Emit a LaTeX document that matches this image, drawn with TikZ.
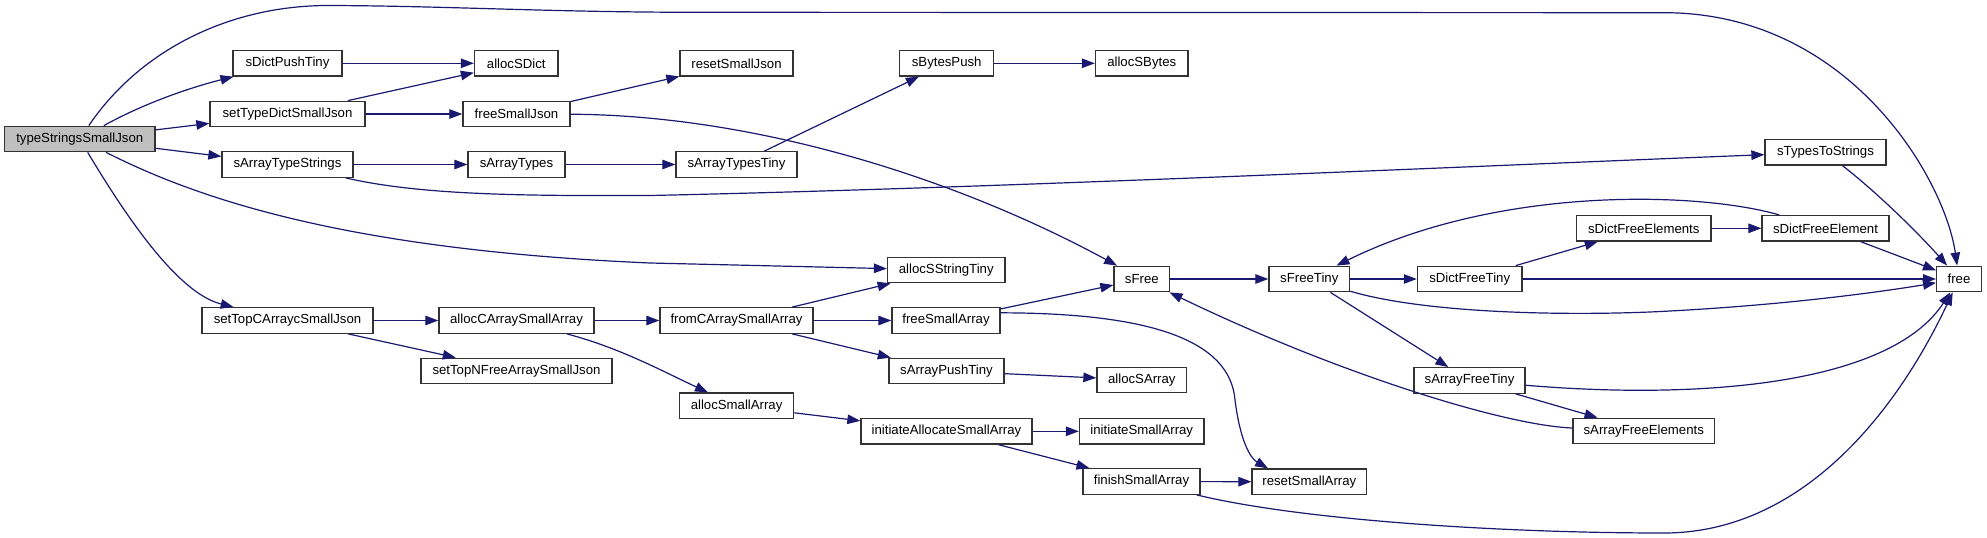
\documentclass[tikz,border=0pt]{standalone}
\usepackage{fontspec}
\setmainfont{Liberation Sans}
\usetikzlibrary{arrows.meta}
\definecolor{edgec}{HTML}{191970}
\begin{document}
\begin{tikzpicture}[x=1pt,y=-1pt,
  fn/.style={draw=black!80, line width=1.3pt, fill=white, minimum height=25.5pt, inner sep=0pt, font=\fontsize{13.2}{15}\selectfont},
  call/.style={draw=edgec, line width=1.2pt, -{Triangle[length=13pt,width=9.5pt]}},
]
\useasboundingbox (0,0) rectangle (1987,538);
\fill[white] (0,0) rectangle (1987,538);

\node[fn,minimum width=150.5pt,fill=black!25] (tssj) at (79.75,139) {typeStringsSmallJson};
\node[fn,minimum width=109pt] (sdpt) at (287.5,63.3) {sDictPushTiny};
\node[fn,minimum width=83.5pt] (asd) at (516.25,63.3) {allocSDict};
\node[fn,minimum width=155pt] (stdsj) at (287.5,114) {setTypeDictSmallJson};
\node[fn,minimum width=107pt] (fsj) at (516.5,114) {freeSmallJson};
\node[fn,minimum width=131pt] (satst) at (287.5,164.5) {sArrayTypeStrings};
\node[fn,minimum width=97pt] (sat) at (516.5,164.5) {sArrayTypes};
\node[fn,minimum width=113pt] (rsj) at (736.5,63.3) {resetSmallJson};
\node[fn,minimum width=94pt] (sbp) at (946.7,63.3) {sBytesPush};
\node[fn,minimum width=92.5pt] (asb) at (1141.75,63.3) {allocSBytes};
\node[fn,minimum width=121pt] (satt) at (736.5,164.5) {sArrayTypesTiny};
\node[fn,minimum width=117.5pt] (asst) at (946.25,270) {allocSStringTiny};
\node[fn,minimum width=121pt] (sttst) at (1825.5,152.3) {sTypesToStrings};
\node[fn,minimum width=134.5pt] (sdfes) at (1643.75,228.3) {sDictFreeElements};
\node[fn,minimum width=127pt] (sdfe) at (1825.5,228.3) {sDictFreeElement};
\node[fn,minimum width=44.7pt] (free) at (1959,279) {free};
\node[fn,minimum width=104.6pt] (sdft) at (1469.7,279) {sDictFreeTiny};
\node[fn,minimum width=80.6pt] (sft) at (1309.3,279) {sFreeTiny};
\node[fn,minimum width=55.6pt] (sfree) at (1141.8,279) {sFree};
\node[fn,minimum width=111pt] (saft) at (1469.5,380.5) {sArrayFreeTiny};
\node[fn,minimum width=141.5pt] (safe) at (1643.75,431) {sArrayFreeElements};
\node[fn,minimum width=114.6pt] (rsa) at (1309.3,481.8) {resetSmallArray};
\node[fn,minimum width=171pt] (stcasj) at (287.5,320.5) {setTopCArraycSmallJson};
\node[fn,minimum width=155pt] (acasa) at (516.5,320.5) {allocCArraySmallArray};
\node[fn,minimum width=191pt] (stnfasj) at (516.5,371) {setTopNFreeArraySmallJson};
\node[fn,minimum width=153pt] (fcasa) at (736.5,320.5) {fromCArraySmallArray};
\node[fn,minimum width=108pt] (fsa) at (946,320.5) {freeSmallArray};
\node[fn,minimum width=115pt] (sapt) at (946.5,371) {sArrayPushTiny};
\node[fn,minimum width=89.6pt] (asa) at (1141.8,380) {allocSArray};
\node[fn,minimum width=114pt] (asma) at (736.6,405.8) {allocSmallArray};
\node[fn,minimum width=171pt] (iasa) at (946.5,431.3) {initiateAllocateSmallArray};
\node[fn,minimum width=124.5pt] (isa) at (1141.75,431.3) {initiateSmallArray};
\node[fn,minimum width=117pt] (fsma) at (1141.5,481.5) {finishSmallArray};

\draw[call] (tssj) .. controls (140,50) and (230,5) .. (330,5.5) .. controls (450,6) and (550,12.3) .. (700,12.3) -- (1664,12.7) .. controls (1850,12.7) and (1945,180) .. (free);
\draw[call] (tssj) .. controls (150,100) and (200,85) .. (sdpt);
\draw[call] (tssj) -- (stdsj);
\draw[call] (tssj) -- (satst);
\draw[call] (tssj) .. controls (200,200) and (350,250) .. (650,263) -- (asst);
\draw[call] (tssj) .. controls (140,240) and (185,295) .. (stcasj);
\draw[call] (sdpt) -- (asd);
\draw[call] (stdsj) -- (asd);
\draw[call] (stdsj) -- (fsj);
\draw[call] (fsj) -- (rsj);
\draw[call] (fsj) .. controls (750,115) and (950,175) .. (sfree);
\draw[call] (satst) -- (sat);
\draw[call] (satst) .. controls (420,195) and (520,196) .. (650,195.5) .. controls (1000,188) and (1500,165) .. (sttst);
\draw[call] (sat) -- (satt);
\draw[call] (satt) -- (sbp);
\draw[call] (sbp) -- (asb);
\draw[call] (sttst) .. controls (1880,195) and (1920,235) .. (free);
\draw[call] (stcasj) -- (acasa);
\draw[call] (stcasj) -- (stnfasj);
\draw[call] (acasa) .. controls (620,348) and (660,370) .. (asma);
\draw[call] (acasa) -- (fcasa);
\draw[call] (fcasa) -- (asst);
\draw[call] (fcasa) -- (fsa);
\draw[call] (fcasa) -- (sapt);
\draw[call] (fsa) -- (sfree);
\draw[call] (fsa.8) .. controls (1150,313) and (1230,340) .. (1235,400) .. controls (1240,440) and (1250,458) .. (rsa.162);
\draw[call] (sapt) -- (asa);
\draw[call] (asma) -- (iasa);
\draw[call] (iasa) -- (isa);
\draw[call] (iasa) -- (fsma);
\draw[call] (fsma) -- (rsa);
\draw[call] (fsma) .. controls (1300,520) and (1500,533) .. (1664,533) .. controls (1800,533) and (1895,415) .. (free);
\draw[call] (sfree) -- (sft);
\draw[call] (sft) -- (sdft);
\draw[call] (sft) .. controls (1420,312) and (1550,316) .. (1650,312) .. controls (1780,306) and (1880,292) .. (free);
\draw[call] (sft) -- (saft);
\draw[call] (sdft) -- (sdfes);
\draw[call] (sdft) -- (free);
\draw[call] (sdfes) -- (sdfe);
\draw[call] (sdfe) .. controls (1700,192) and (1500,185) .. (sft);
\draw[call] (sdfe) -- (free);
\draw[call] (saft) .. controls (1700,400) and (1890,385) .. (free);
\draw[call] (saft) -- (safe);
\draw[call] (safe) .. controls (1500,425) and (1330,370) .. (sfree);
\end{tikzpicture}
\end{document}
